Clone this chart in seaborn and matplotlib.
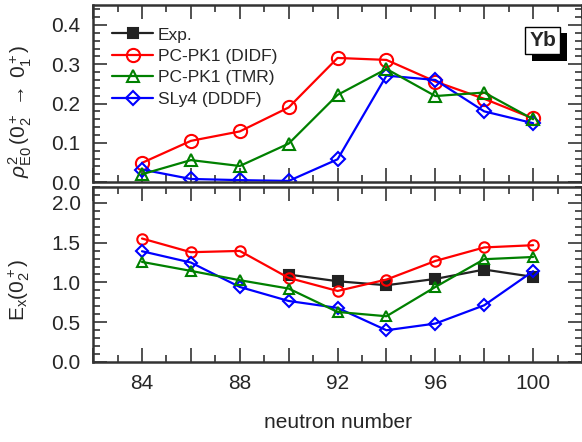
import matplotlib
matplotlib.use("Agg")
import matplotlib.pyplot as plt
import matplotlib.patheffects as pe
from matplotlib.ticker import MultipleLocator, FuncFormatter
import seaborn as sns

neutrons = [84, 86, 88, 90, 92, 94, 96, 98, 100]
exp_neutrons = [90, 92, 94, 96, 98, 100]

# rho^2(E0) for 0+2 -> 0+1
rho_didf = [0.049, 0.105, 0.129, 0.190, 0.316, 0.311, 0.256, 0.212, 0.162]
rho_tmr = [0.020, 0.056, 0.041, 0.098, 0.222, 0.288, 0.219, 0.228, 0.160]
rho_sly4 = [0.032, 0.008, 0.005, 0.003, 0.058, 0.271, 0.260, 0.180, 0.150]

# excitation energy of 0+2 (MeV)
ex_exp = [1.099, 1.015, 0.965, 1.044, 1.162, 1.070]
ex_didf = [1.552, 1.380, 1.396, 1.057, 0.893, 1.036, 1.270, 1.440, 1.468]
ex_tmr = [1.258, 1.145, 1.028, 0.923, 0.629, 0.575, 0.943, 1.292, 1.320]
ex_sly4 = [1.392, 1.250, 0.943, 0.767, 0.680, 0.399, 0.483, 0.713, 1.141]

sns.set_theme(style="ticks")
plt.rcParams["font.family"] = ["Liberation Sans", "DejaVu Sans"]
plt.rcParams["mathtext.fontset"] = "custom"
plt.rcParams["mathtext.rm"] = "Liberation Sans"
plt.rcParams["mathtext.it"] = "Liberation Sans:italic"

fig = plt.figure(figsize=(5.82, 4.42), dpi=100)
ax1 = fig.add_axes([0.160, 0.588, 0.840, 0.400])
ax2 = fig.add_axes([0.160, 0.181, 0.840, 0.396])

RED, GREEN, BLUE, BLACK = "#ff0000", "#008000", "#0000ff", "#222222"
lw = 1.6


def series(ax, x, y, color, marker, ms, label=None, filled=False):
    sns.lineplot(
        x=x, y=y, ax=ax, color=color, marker=marker, markersize=ms,
        markerfacecolor=color if filled else "none", markeredgecolor=color,
        markeredgewidth=1.5, linewidth=lw, label=label, legend=False,
    )


series(ax1, neutrons, rho_didf, RED, "o", 9.5, "PC-PK1 (DIDF)")
series(ax1, neutrons, rho_sly4, BLUE, "D", 7, "SLy4 (DDDF)")
series(ax1, neutrons, rho_tmr, GREEN, "^", 9, "PC-PK1 (TMR)")

series(ax2, exp_neutrons, ex_exp, BLACK, "s", 7, "Exp.", filled=True)
series(ax2, neutrons, ex_didf, RED, "o", 7.5)
series(ax2, neutrons, ex_sly4, BLUE, "D", 6.5)
series(ax2, neutrons, ex_tmr, GREEN, "^", 7.5)

for ax in (ax1, ax2):
    ax.set_xlim(82, 102)
    ax.xaxis.set_major_locator(MultipleLocator(2))
    ax.xaxis.set_minor_locator(MultipleLocator(1))
    ax.tick_params(which="both", direction="in", top=True, right=True,
                   labelsize=15, width=1.2, color="#333333", pad=9)
    ax.tick_params(which="major", length=10)
    ax.tick_params(which="minor", length=5)
    for s in ax.spines.values():
        s.set_linewidth(1.8)
        s.set_color("#333333")
    ax.set_ylabel("")
    ax.set_xlabel("")

ax1.tick_params(axis="x", labelbottom=False)
ax2.xaxis.set_major_formatter(
    FuncFormatter(lambda v, p: f"{int(round(v))}" if round(v) % 4 == 0 and 84 <= v <= 100 else ""))

ax1.set_ylim(0, 0.45)
ax1.yaxis.set_major_locator(MultipleLocator(0.1))
ax1.yaxis.set_minor_locator(MultipleLocator(0.02))
ax1.yaxis.set_major_formatter(FuncFormatter(lambda v, p: f"{v:.1f}"))

ax2.set_ylim(0, 2.2)
ax2.yaxis.set_major_locator(MultipleLocator(0.5))
ax2.yaxis.set_minor_locator(MultipleLocator(0.1))
ax2.yaxis.set_major_formatter(FuncFormatter(lambda v, p: f"{v:.1f}"))

ax1.set_ylabel(r"$\rho^2_{\rm E0}\,(0^+_2\,\rightarrow\,0^+_1)$", fontsize=15)
ax1.yaxis.set_label_coords(-0.12, 0.40)
ax2.set_ylabel(r"$\rm E_x(0^+_2)$", fontsize=15)
ax2.yaxis.set_label_coords(-0.125, 0.41)
ax2.set_xlabel("neutron number", fontsize=15, labelpad=14)

# legend: Exp. from the lower panel, models from the upper one
h1, l1 = ax1.get_legend_handles_labels()
h2, l2 = ax2.get_legend_handles_labels()
handles = {**dict(zip(l1, h1)), **dict(zip(l2, h2))}
order = ["Exp.", "PC-PK1 (DIDF)", "PC-PK1 (TMR)", "SLy4 (DDDF)"]
ax1.legend([handles[k] for k in order], order, loc="upper left",
           bbox_to_anchor=(0.038, 0.875), frameon=False, fontsize=12.5,
           handlelength=2.4, handletextpad=0.25, labelspacing=0.36,
           borderpad=0, borderaxespad=0)

t = ax1.text(0.92, 0.80, "Yb", transform=ax1.transAxes, ha="center", va="center",
             fontsize=15, fontweight="bold",
             bbox=dict(boxstyle="square,pad=0.2", fc="white", ec="black", lw=1))
t.get_bbox_patch().set_path_effects(
    [pe.SimplePatchShadow(offset=(4.5, -4.5), shadow_rgbFace="black", alpha=1), pe.Normal()])

fig.savefig("out.png", dpi=100)
